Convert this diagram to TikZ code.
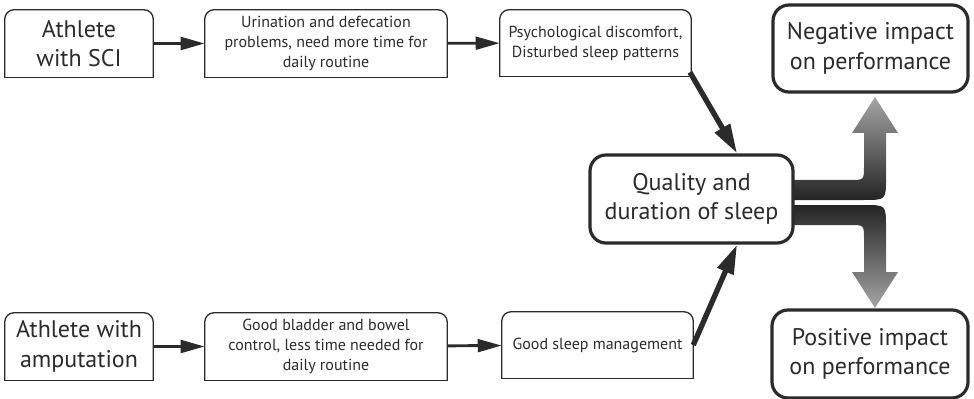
\documentclass[tikz,border=0pt]{standalone}
\usepackage{fontspec}
\setmainfont{PT Sans}
\usetikzlibrary{arrows.meta}
\definecolor{inkgray}{HTML}{2B2B2B}
\definecolor{lightarrow}{HTML}{A5A5A5}
\definecolor{darkarrow}{HTML}{242424}
% frame with rounded top corners and square bottom corners
\newcommand{\topframe}[1]{%
  \draw[smallline, rounded corners=7pt] (#1.south west) -- (#1.north west) -- (#1.north east) -- (#1.south east);
  \draw[smallline] (#1.south west) -- (#1.south east);}
\tikzset{
  stepnode/.style={inner sep=0pt, align=center, text=inkgray, font=\fontsize{12}{15}\selectfont},
  bigtext/.style={font=\fontsize{18}{22}\selectfont},
  smallline/.style={draw=inkgray, line width=1pt, line cap=rect},
  bigbox/.style={draw=inkgray, fill=white, line width=2.4pt, rounded corners=12pt, align=center, text=inkgray, font=\fontsize{18}{22}\selectfont, inner sep=0pt},
  flow/.style={draw=inkgray, line width=2.2pt, -{Triangle[length=18pt,width=9.5pt]}},
  feed/.style={draw=inkgray, line width=4pt, -{Triangle[length=22pt,width=12.5pt]}},
}
\begin{document}
\begin{tikzpicture}[x=0.75pt, y=-0.75pt]
    \useasboundingbox (0,0) rectangle (974,399);

    % grey output arrows
    \shade[top color=lightarrow, bottom color=darkarrow] (794,180) -- (850,180) .. controls (864,180) .. (864,166) -- (864,133) -- (852,133) -- (875,97) -- (898,133) -- (886,133) -- (886,178) .. controls (886,200) .. (864,200) -- (794,200) -- cycle;
    \shade[top color=darkarrow, bottom color=lightarrow] (794,205) -- (864,205) .. controls (886,205) .. (886,227) -- (886,272) -- (898,272) -- (875,308) -- (852,272) -- (864,272) -- (864,239) .. controls (864,225) .. (850,225) -- (794,225) -- cycle;

    % upper chain
    \node[stepnode, bigtext, minimum width=111pt, minimum height=50.25pt] (sci) at (79,43.5) {Athlete\\with SCI};
    \node[stepnode, minimum width=181.5pt, minimum height=50.25pt] (bowel) at (326,43.5) {Urination and defecation\\problems, need more time for\\daily routine};
    \node[stepnode, minimum width=143.25pt, minimum height=49.5pt] (discomfort) at (595.5,43) {Psychological discomfort,\\Disturbed sleep patterns};

    % lower chain
    \node[stepnode, bigtext, minimum width=111pt, minimum height=50.25pt] (amp) at (79,346.5) {Athlete with\\amputation};
    \node[stepnode, minimum width=181.5pt, minimum height=50.25pt] (control) at (326,346.5) {Good bladder and bowel\\control, less time needed for\\daily routine};
    \node[stepnode, minimum width=143.25pt, minimum height=49.5pt] (manage) at (597.5,345) {Good sleep management};

    \topframe{sci}
    \topframe{bowel}
    \topframe{discomfort}
    \topframe{amp}
    \topframe{control}
    \topframe{manage}

    % sleep and outcomes
    \node[bigbox, minimum width=152.25pt, minimum height=66pt] (sleep) at (691.5,199) {Quality and\\duration of sleep};
    \node[bigbox, minimum width=146.25pt, minimum height=65.25pt] (neg) at (870.5,48.5) {Negative impact\\on performance};
    \node[bigbox, minimum width=147pt, minimum height=66pt] (pos) at (870,354) {Positive impact\\on performance};

    \draw[flow] (sci) -- (bowel);
    \draw[flow] (bowel) -- (discomfort);
    \draw[flow] (amp) -- (control);
    \draw[flow] (control) -- (manage);

    \draw[feed] ([xshift=-1pt, yshift=3pt]discomfort.south east) -- (sleep.45);
    \draw[feed] (manage.east) -- (sleep.-45);
\end{tikzpicture}
\end{document}
